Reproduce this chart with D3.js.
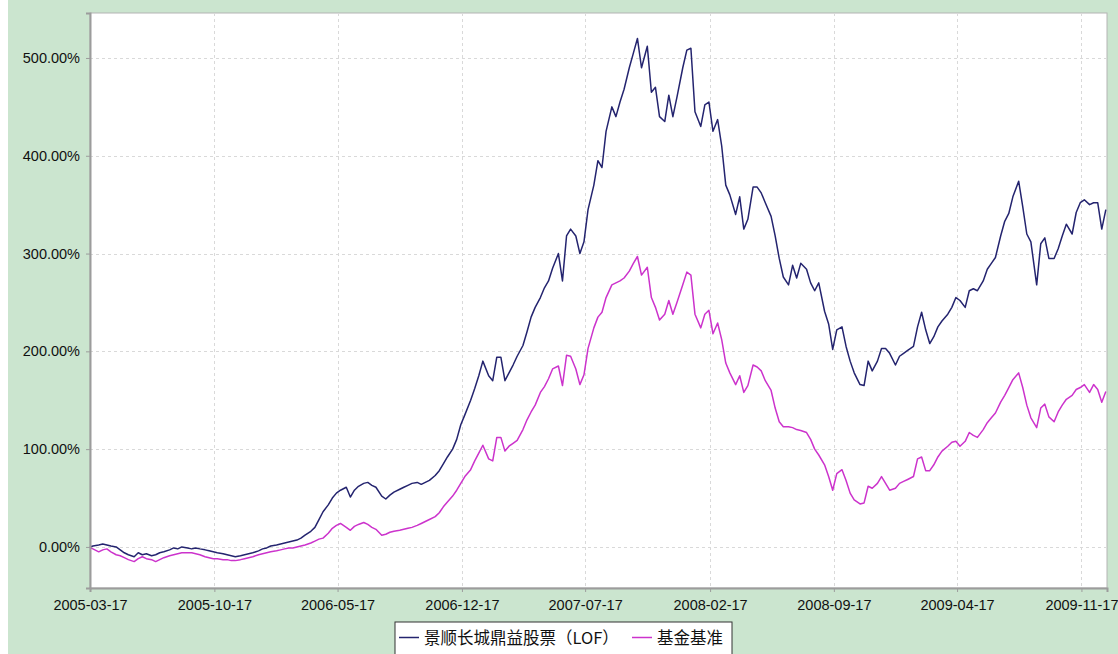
<!DOCTYPE html>
<html>
<head>
<meta charset="utf-8">
<script src="https://cdn.jsdelivr.net/npm/d3@7"></script>
<style>
  html, body { margin: 0; padding: 0; background: #fff; }
  svg { display: block; }
</style>
</head>
<body>
<script>
var W = 1118, H = 654;

// sampled dates (4 per month)
var dates = [
"2005-03-17","2005-03-22",
"2005-04-01","2005-04-08","2005-04-15","2005-04-22",
"2005-05-01","2005-05-08","2005-05-15","2005-05-22",
"2005-06-01","2005-06-08","2005-06-15","2005-06-22",
"2005-07-01","2005-07-08","2005-07-15","2005-07-22",
"2005-08-01","2005-08-08","2005-08-15","2005-08-22",
"2005-09-01","2005-09-08","2005-09-15","2005-09-22",
"2005-10-01","2005-10-08","2005-10-15","2005-10-22",
"2005-11-01","2005-11-08","2005-11-15","2005-11-22",
"2005-12-01","2005-12-08","2005-12-15","2005-12-22",
"2006-01-01","2006-01-08","2006-01-15","2006-01-22",
"2006-02-01","2006-02-08","2006-02-15","2006-02-22",
"2006-03-01","2006-03-08","2006-03-15","2006-03-22",
"2006-04-01","2006-04-08","2006-04-15","2006-04-22",
"2006-05-01","2006-05-08","2006-05-15","2006-05-22",
"2006-06-01","2006-06-08","2006-06-15","2006-06-22",
"2006-07-01","2006-07-08","2006-07-15","2006-07-22",
"2006-08-01","2006-08-08","2006-08-15","2006-08-22",
"2006-09-01","2006-09-08","2006-09-15","2006-09-22",
"2006-10-01","2006-10-08","2006-10-15","2006-10-22",
"2006-11-01","2006-11-08","2006-11-15","2006-11-22",
"2006-12-01","2006-12-08","2006-12-15","2006-12-22",
"2007-01-01","2007-01-08","2007-01-15","2007-01-22",
"2007-02-01","2007-02-08","2007-02-15","2007-02-22",
"2007-03-01","2007-03-08","2007-03-15","2007-03-22",
"2007-04-01","2007-04-08","2007-04-15","2007-04-22",
"2007-05-01","2007-05-08","2007-05-15","2007-05-22",
"2007-06-01","2007-06-08","2007-06-15","2007-06-22",
"2007-07-01","2007-07-08","2007-07-15","2007-07-22",
"2007-08-01","2007-08-08","2007-08-15","2007-08-22",
"2007-09-01","2007-09-08","2007-09-15","2007-09-22",
"2007-10-01","2007-10-08","2007-10-15","2007-10-22",
"2007-11-01","2007-11-08","2007-11-15","2007-11-22",
"2007-12-01","2007-12-08","2007-12-15","2007-12-22",
"2008-01-01","2008-01-08","2008-01-15","2008-01-22",
"2008-02-01","2008-02-08","2008-02-15","2008-02-22",
"2008-03-01","2008-03-08","2008-03-15","2008-03-22",
"2008-04-01","2008-04-08","2008-04-15","2008-04-22",
"2008-05-01","2008-05-08","2008-05-15","2008-05-22",
"2008-06-01","2008-06-08","2008-06-15","2008-06-22",
"2008-07-01","2008-07-08","2008-07-15","2008-07-22",
"2008-08-01","2008-08-08","2008-08-15","2008-08-22",
"2008-09-01","2008-09-08","2008-09-15","2008-09-22",
"2008-10-01","2008-10-08","2008-10-15","2008-10-22",
"2008-11-01","2008-11-08","2008-11-15","2008-11-22",
"2008-12-01","2008-12-08","2008-12-15","2008-12-22",
"2009-01-01","2009-01-08","2009-01-15","2009-01-22",
"2009-02-01","2009-02-08","2009-02-15","2009-02-22",
"2009-03-01","2009-03-08","2009-03-15","2009-03-22",
"2009-04-01","2009-04-08","2009-04-15","2009-04-22",
"2009-05-01","2009-05-08","2009-05-15","2009-05-22",
"2009-06-01","2009-06-08","2009-06-15","2009-06-22",
"2009-07-01","2009-07-08","2009-07-15","2009-07-22",
"2009-08-01","2009-08-08","2009-08-15","2009-08-22",
"2009-09-01","2009-09-08","2009-09-15","2009-09-22",
"2009-10-01","2009-10-08","2009-10-15","2009-10-22",
"2009-11-01","2009-11-08","2009-11-15","2009-11-22",
"2009-12-01","2009-12-08","2009-12-15","2009-12-22","2009-12-29"
];

// 景顺长城鼎益股票(LOF) cumulative return, %
var fundValues = [
0, 1,
2, 3, 2, 1,
0, -3, -6, -8,
-10, -6, -8, -7,
-9, -8, -6, -5,
-3, -1, -2, 0,
-1, -2, -1, -2,
-3, -4, -5, -6,
-7, -8, -9, -10,
-9, -8, -7, -6,
-4, -2, -1, 1,
2, 3, 4, 5,
6, 7, 9, 12,
16, 20, 28, 36,
43, 50, 55, 58,
61, 51, 58, 62,
65, 66, 63, 61,
52, 49, 53, 56,
59, 61, 63, 65,
66, 64, 66, 68,
73, 78, 85, 92,
100, 110, 125, 135,
150, 162, 175, 190,
175, 170, 194, 194,
170, 178, 186, 195,
206, 220, 235, 245,
255, 265, 272, 285,
300, 272, 318, 325,
318, 300, 312, 345,
370, 395, 388, 425,
450, 440, 455, 468,
490, 505, 520, 490,
512, 465, 470, 440,
435, 462, 440, 460,
490, 508, 510, 445,
430, 452, 455, 425,
437, 410, 370, 360,
340, 358, 325, 335,
368, 368, 362, 352,
338, 318, 295, 276,
268, 288, 275, 290,
284, 270, 262, 270,
241, 228, 202, 222,
225, 205, 190, 178,
166, 165, 190, 180,
190, 203, 203, 198,
186, 195, 198, 201,
205, 225, 240, 222,
208, 215, 225, 231,
238, 245, 255, 252,
245, 262, 264, 262,
272, 284, 290, 296,
318, 333, 341, 358,
374, 348, 320, 312,
268, 310, 316, 295,
295, 305, 318, 330,
320, 342, 352, 355,
350, 352, 352, 325, 345
];

// 基金基准 cumulative return, %
var benchValues = [
-1, -2,
-5, -3, -2, -5,
-8, -9, -11, -13,
-15, -12, -10, -12,
-13, -15, -13, -11,
-9, -8, -7, -6,
-6, -6, -7, -8,
-10, -11, -12, -12,
-13, -13, -14, -14,
-13, -12, -11, -10,
-8, -7, -6, -5,
-4, -3, -2, -1,
-1, 0, 1, 2,
4, 6, 8, 9,
14, 19, 22, 24,
20, 17, 21, 23,
25, 23, 20, 18,
12, 13, 15, 16,
17, 18, 19, 20,
22, 24, 26, 28,
31, 35, 41, 46,
52, 58, 65, 72,
79, 88, 96, 104,
90, 88, 112, 112,
98, 103, 106, 109,
120, 130, 138, 145,
158, 164, 172, 182,
185, 165, 196, 195,
182, 166, 176, 203,
224, 235, 240, 255,
268, 270, 272, 275,
282, 290, 297, 278,
286, 255, 245, 232,
238, 252, 238, 250,
268, 281, 278, 238,
224, 238, 242, 218,
229, 212, 188, 178,
166, 175, 158, 165,
186, 184, 180, 170,
160, 142, 128, 123,
123, 122, 120, 119,
117, 110, 100, 94,
84, 72, 58, 75,
79, 68, 55, 48,
44, 45, 62, 60,
65, 72, 65, 58,
60, 65, 67, 69,
72, 90, 92, 78,
78, 84, 92, 98,
103, 107, 108, 103,
108, 117, 114, 112,
120, 127, 132, 137,
148, 155, 163, 171,
178, 163, 145, 132,
122, 142, 146, 133,
128, 138, 145, 151,
155, 161, 163, 166,
158, 166, 161, 148, 159
];

var xTickLabels = ["2005-03-17","2005-10-17","2006-05-17","2006-12-17","2007-07-17",
                   "2008-02-17","2008-09-17","2009-04-17","2009-11-17"];
var yTickValues = [0, 100, 200, 300, 400, 500];
var seriesNames = ["景顺长城鼎益股票（LOF）", "基金基准"];
var seriesColors = ["#24246f", "#cc33cc"];

var parse = d3.timeParse("%Y-%m-%d");
var fmt = d3.timeFormat("%Y-%m-%d");

var plot = {left: 90, top: 13, right: 1107, bottom: 588};

var x = d3.scaleTime()
    .domain([parse("2005-03-17"), parse("2009-12-31")])
    .range([plot.left, plot.right]);
var y = d3.scaleLinear()
    .domain([-42, 546])
    .range([plot.bottom, plot.top]);

var svg = d3.select("body").append("svg")
    .attr("width", W)
    .attr("height", H);

svg.append("rect")
    .attr("x", 8).attr("y", 0)
    .attr("width", W - 8).attr("height", H)
    .style("fill", "#cbe5cf");

svg.append("rect")
    .attr("x", plot.left).attr("y", plot.top)
    .attr("width", plot.right - plot.left).attr("height", plot.bottom - plot.top)
    .style("fill", "#fff")
    .style("stroke", "#b4b4b4")
    .style("stroke-width", 1);

// grid
var grid = svg.append("g").attr("class", "grid");
grid.selectAll("line.h").data(yTickValues).enter().append("line")
    .attr("x1", plot.left).attr("x2", plot.right)
    .attr("y1", function(d){ return Math.round(y(d)) + 0.5; })
    .attr("y2", function(d){ return Math.round(y(d)) + 0.5; })
    .style("stroke", "#d9d9d9")
    .style("stroke-dasharray", "3,3");
grid.selectAll("line.v").data(xTickLabels.slice(1)).enter().append("line")
    .attr("x1", function(d){ return Math.round(x(parse(d))) + 0.5; })
    .attr("x2", function(d){ return Math.round(x(parse(d))) + 0.5; })
    .attr("y1", plot.top).attr("y2", plot.bottom)
    .style("stroke", "#d9d9d9")
    .style("stroke-dasharray", "3,3");

// lines
var allSeries = [fundValues, benchValues];
var line = d3.line()
    .x(function(d){ return x(d.date); })
    .y(function(d){ return y(d.value); });

allSeries.slice().reverse().forEach(function(vals, k){
    var i = allSeries.length - 1 - k;
    var pts = dates.map(function(d, j){ return {date: parse(d), value: vals[j]}; });
    svg.append("path")
        .datum(pts)
        .attr("d", line)
        .style("fill", "none")
        .style("stroke", seriesColors[i])
        .style("stroke-width", 1.5)
        .style("stroke-linejoin", "round");
});

// axes
var yAxis = d3.axisLeft(y)
    .tickValues(yTickValues)
    .tickSize(4)
    .tickPadding(6)
    .tickFormat(function(d){ return d.toFixed(2) + "%"; });
var xAxis = d3.axisBottom(x)
    .tickValues(xTickLabels.map(parse))
    .tickSize(4)
    .tickPadding(8)
    .tickFormat(fmt);

var gy = svg.append("g").attr("transform", "translate(" + plot.left + ",0)").call(yAxis);
var gx = svg.append("g").attr("transform", "translate(0," + plot.bottom + ")").call(xAxis);

[gx, gy].forEach(function(g){
    g.select(".domain").style("stroke", "#9c9c9c").style("stroke-width", 2);
    g.selectAll(".tick line").style("stroke", "#9c9c9c");
    g.selectAll(".tick text")
        .style("font-family", "'Liberation Sans', Arial, sans-serif")
        .style("font-size", "14.5px")
        .style("fill", "#111");
});

// legend
var legend = svg.append("g").attr("transform", "translate(395,622)");
legend.append("rect")
    .attr("x", 0).attr("y", 0)
    .attr("width", 337).attr("height", 40)
    .style("fill", "#fff")
    .style("stroke", "#333")
    .style("stroke-width", 1);
var legendX = [4, 237];
seriesNames.forEach(function(name, i){
    var lg = legend.append("g").attr("transform", "translate(" + legendX[i] + ",0)");
    lg.append("line")
        .attr("x1", 0).attr("x2", 20)
        .attr("y1", 15.5).attr("y2", 15.5)
        .style("stroke", seriesColors[i])
        .style("stroke-width", 1.5);
    lg.append("text")
        .text(name)
        .attr("x", 25).attr("y", 22)
        .style("font-family", "'Noto Sans CJK SC', sans-serif")
        .style("font-size", "16.5px")
        .style("fill", "#111");
});
</script>
</body>
</html>
